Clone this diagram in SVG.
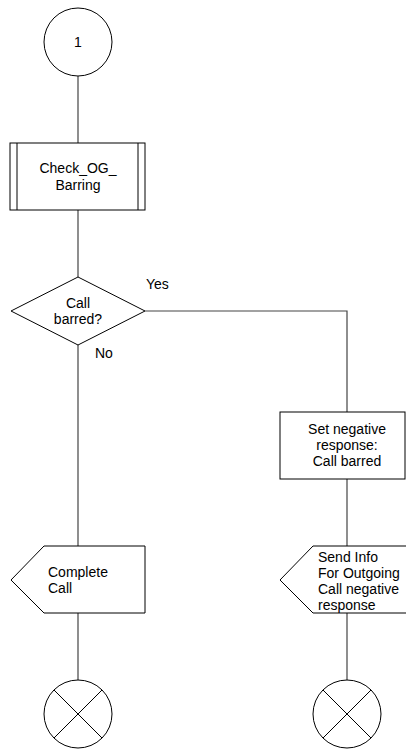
<svg xmlns="http://www.w3.org/2000/svg" width="406" height="749" viewBox="0 0 406 749">
<style>
.s{fill:#fff;stroke:#000;stroke-width:1}
.c{fill:none;stroke:#444;stroke-width:1.2}
text{font-family:"Liberation Sans",Arial,sans-serif;font-size:14px;fill:#000}
.m{text-anchor:middle}
</style>
<rect width="406" height="749" fill="#fff"/>
<g id="connectors">
<line class="c" x1="78" y1="76" x2="78" y2="143"/>
<line class="c" x1="78" y1="210" x2="78" y2="277"/>
<line class="c" x1="78" y1="345" x2="78" y2="546"/>
<polyline class="c" points="145,311 347,311 347,412"/>
<line class="c" x1="347" y1="479" x2="347" y2="546"/>
<line class="c" x1="78" y1="613" x2="78" y2="681"/>
<line class="c" x1="347" y1="613" x2="347" y2="681"/>
<text x="146" y="289">Yes</text>
<text x="95" y="358">No</text>
</g>
<g id="start">
<circle class="s" cx="78" cy="42" r="34"/>
<text class="m" x="78" y="47">1</text>
</g>
<g id="check">
<rect class="s" x="10" y="143" width="135" height="67"/>
<line class="s" x1="17" y1="143" x2="17" y2="210"/>
<line class="s" x1="138" y1="143" x2="138" y2="210"/>
<text class="m" x="78" y="173">Check_OG_</text>
<text class="m" x="78" y="190">Barring</text>
</g>
<g id="decision">
<polygon class="s" points="78,277 145,311 78,345 11,311"/>
<text class="m" x="78" y="308">Call</text>
<text class="m" x="78" y="324">barred?</text>
</g>
<g id="setneg">
<rect class="s" x="280" y="412" width="125" height="67"/>
<text class="m" x="347" y="434">Set negative</text>
<text class="m" x="347" y="450">response:</text>
<text class="m" x="347" y="466">Call barred</text>
</g>
<g id="complete">
<polygon class="s" points="44,546 145,546 145,613 44,613 11,580"/>
<text x="48" y="577">Complete</text>
<text x="48" y="593">Call</text>
</g>
<g id="sendinfo">
<polygon class="s" points="313,546 414,546 414,613 313,613 280,580"/>
<text x="318" y="562">Send Info</text>
<text x="318" y="578">For Outgoing</text>
<text x="318" y="594">Call negative</text>
<text x="318" y="610">response</text>
</g>
<g id="stop1">
<circle class="s" cx="78" cy="714" r="34"/>
<line class="s" x1="54" y1="690" x2="102" y2="738"/>
<line class="s" x1="102" y1="690" x2="54" y2="738"/>
</g>
<g id="stop2">
<circle class="s" cx="347" cy="714" r="34"/>
<line class="s" x1="323" y1="690" x2="371" y2="738"/>
<line class="s" x1="371" y1="690" x2="323" y2="738"/>
</g>
</svg>
